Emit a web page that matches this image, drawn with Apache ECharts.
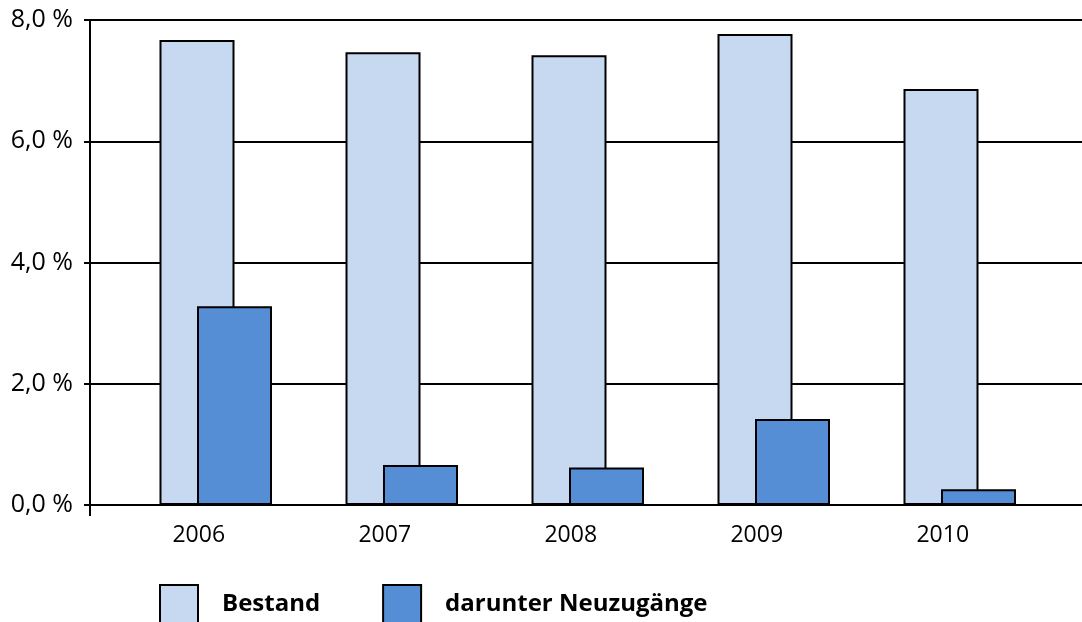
<!DOCTYPE html>
<html>
<head>
<meta charset="utf-8">
<script src="https://cdn.jsdelivr.net/npm/echarts@6/dist/echarts.min.js"></script>
<style>html,body{margin:0;padding:0;background:#fff;}#c{width:1082px;height:622px;}</style>
</head>
<body>
<div id="c"></div>
<script>
const categories = ['2006', '2007', '2008', '2009', '2010'];
const bestand = [7.67, 7.47, 7.42, 7.77, 6.86];
const neuzugaenge = [3.28, 0.66, 0.62, 1.42, 0.26];
const seriesNames = ['Bestand', 'darunter Neuzugänge'];
const yTicks = [0, 2, 4, 6, 8];

const FONT = 'Open Sans';
const chart = echarts.init(document.getElementById('c'), null, {renderer: 'canvas'});
chart.setOption({
  backgroundColor: '#fff',
  animation: false,
  textStyle: {fontFamily: FONT, color: '#000'},
  grid: [
    {left: 90, right: 0, top: 20, bottom: 117},
    {left: 122.75, right: 29.25, top: 20, bottom: 117}
  ],
  legend: {
    left: 159, top: 584, padding: 0,
    itemWidth: 38, itemHeight: 38, itemGap: 62,
    icon: 'rect',
    data: seriesNames,
    textStyle: {fontFamily: FONT, fontSize: 24, fontWeight: 'bold', color: '#000', padding: [0, 0, 0, 19]}
  },
  xAxis: [
    {
      type: 'value', gridIndex: 0, min: 0, max: 1,
      axisLine: {show: true, lineStyle: {color: '#000', width: 2}},
      axisTick: {show: true, customValues: [0], length: 11, lineStyle: {color: '#000', width: 2}},
      axisLabel: {show: false},
      splitLine: {show: false}
    },
    {
      type: 'category', gridIndex: 1, data: categories,
      axisLine: {show: false}, axisTick: {show: false},
      axisLabel: {
        margin: 19,
        formatter: v => '{a|' + v + '}',
        rich: {a: {fontFamily: FONT, fontSize: 23, color: '#000', padding: [0, 34, 0, 0]}}
      }
    }
  ],
  yAxis: [
    {
      type: 'value', gridIndex: 0, min: yTicks[0], max: yTicks[yTicks.length - 1], interval: 2,
      axisLine: {show: true, lineStyle: {color: '#000', width: 2}},
      axisTick: {show: true, length: 6, lineStyle: {color: '#000', width: 2}},
      axisLabel: {
        margin: 17, fontFamily: FONT, fontSize: 25, color: '#000',
        formatter: v => v.toFixed(1).replace('.', ',') + ' %'
      },
      splitLine: {show: true, lineStyle: {color: '#000', width: 2}}
    },
    {
      type: 'value', gridIndex: 1, min: yTicks[0], max: yTicks[yTicks.length - 1],
      show: false
    }
  ],
  series: [
    {
      name: seriesNames[0], type: 'bar', xAxisIndex: 1, yAxisIndex: 1,
      data: bestand, barWidth: 75, barGap: '-50%',
      itemStyle: {color: '#c6d9f0', borderColor: '#000', borderWidth: 2}
    },
    {
      name: seriesNames[1], type: 'bar', xAxisIndex: 1, yAxisIndex: 1,
      data: neuzugaenge, barWidth: 75, barGap: '-50%',
      itemStyle: {color: '#558ed5', borderColor: '#000', borderWidth: 2}
    }
  ]
});
</script>
</body>
</html>
